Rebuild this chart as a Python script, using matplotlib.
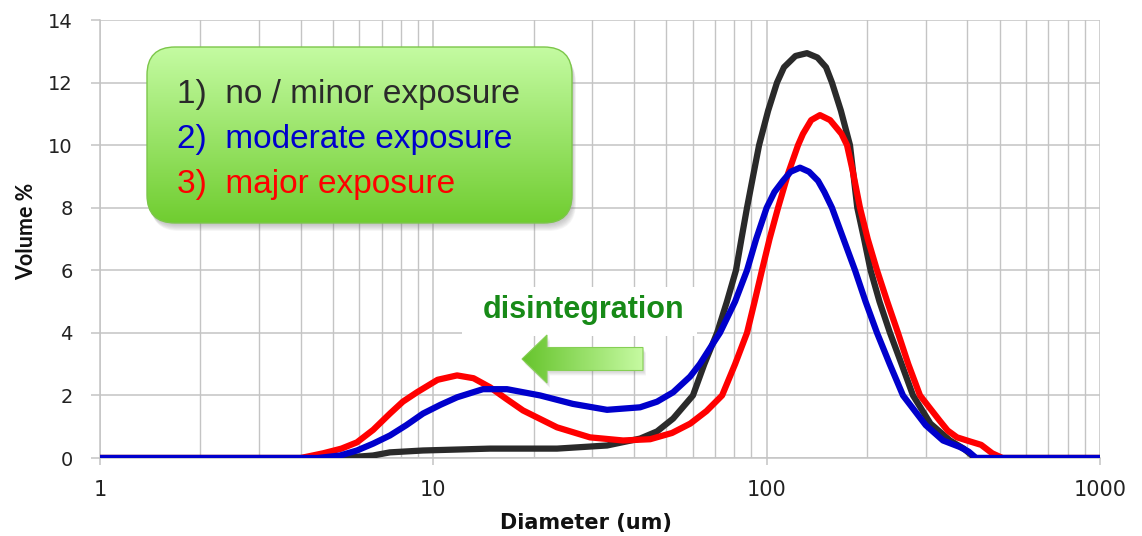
import numpy as np
import matplotlib
matplotlib.use("Agg")
import matplotlib.pyplot as plt
from matplotlib.patches import FancyBboxPatch, Polygon
from matplotlib.ticker import FixedLocator, NullFormatter

# ---------------- data ----------------
black_x = [1, 5.25, 6.59, 7.41, 9.31, 14.8, 23.5, 33.2, 41.7, 46.9, 52.4, 60.1, 65, 71, 76, 80.9, 84, 87.3, 91, 94.9,
           101, 107.4, 112.7, 122, 132.1, 142, 150.7, 157, 167, 177.8, 187, 196, 205, 218, 234.4, 254, 274.8, 310,
           354.8, 390, 421.7, 1000]
black_y = [0, 0, 0.08, 0.18, 0.24, 0.30, 0.30, 0.40, 0.62, 0.85, 1.26, 2.0, 3.0, 4.0, 5.0, 6.0, 7.0, 8.0, 9.0, 10.0,
           11.1, 12.0, 12.49, 12.85, 12.94, 12.8, 12.49, 12.0, 11.1, 10.0, 8.0, 7.0, 6.0, 5.0, 4.0, 3.0, 2.0, 1.1,
           0.56, 0.3, 0, 0]

red_x = [1, 4.0, 4.67, 5.3, 5.9, 6.6, 7.41, 8.1, 8.93, 10.3, 11.78, 13.2, 14.8, 16.5, 18.58, 23.5, 29.5, 37.1, 44.7,
         52, 59, 66, 73.5, 80.4, 87.3, 92, 96.8, 102, 108.2, 116, 124.2, 128.5, 136, 144.5, 155, 167.7, 174.2, 181,
         190.5, 201, 214.3, 230, 247.7, 266, 288.4, 330, 349, 372.4, 410, 440, 475, 510, 1000]
red_y = [0, 0, 0.15, 0.3, 0.5, 0.9, 1.42, 1.8, 2.1, 2.5, 2.64, 2.55, 2.26, 1.9, 1.52, 0.98, 0.66, 0.56, 0.6,
         0.8, 1.1, 1.5, 2.0, 3.0, 4.0, 5.0, 6.0, 7.0, 8.0, 9.1, 10.0, 10.36, 10.8, 10.96, 10.8, 10.36, 10.0, 9.2,
         8.0, 7.0, 6.0, 5.0, 4.0, 3.0, 2.0, 1.2, 0.88, 0.66, 0.52, 0.42, 0.15, 0, 0]

blue_x = [1, 4.5, 5.25, 5.9, 6.6, 7.41, 8.3, 9.31, 10.5, 11.78, 14.09, 16.63, 20.9, 26.2, 33.2, 41.7, 46.9, 52.4, 58.9,
          63, 67.5, 72.4, 80.4, 87.3, 93, 100, 105.5, 111.9, 118, 125.9, 134, 142.6, 149, 157, 170, 184.1, 198,
          214.3, 234, 256.4, 300, 338.1, 380.2, 404, 425, 1000]
blue_y = [0, 0, 0.08, 0.24, 0.46, 0.72, 1.05, 1.42, 1.7, 1.94, 2.2, 2.2, 2.0, 1.73, 1.54, 1.62, 1.8, 2.1, 2.6,
          3.0, 3.5, 4.0, 5.0, 6.0, 7.0, 8.0, 8.5, 8.86, 9.15, 9.28, 9.15, 8.86, 8.5, 8.0, 7.0, 6.0, 5.0,
          4.0, 3.0, 2.0, 1.05, 0.56, 0.35, 0.2, 0, 0]

y_ticks = [0, 2, 4, 6, 8, 10, 12, 14]
x_ticks = [1, 10, 100, 1000]
x_tick_labels = ["1", "10", "100", "1000"]

legend_labels = ["1)  no / minor exposure", "2)  moderate exposure", "3)  major exposure"]
legend_colors = ["#2a2a2a", "#0000cc", "#ff0000"]
annotation_text = "disintegration"

# ---------------- figure ----------------
W, H = 1142, 536
fig = plt.figure(figsize=(W / 100, H / 100), dpi=100)
fig.patch.set_facecolor("white")

L, R, T, B = 100, 1100, 20, 458
ax = fig.add_axes([L / W, 1 - B / H, (R - L) / W, (B - T) / H])
ax.set_xscale("log")
ax.set_xlim(1, 1000)
ax.set_ylim(0, 14)

lw = 4.5
ax.plot(black_x, black_y, color="#2a2a2a", lw=lw, solid_capstyle="round", solid_joinstyle="round", zorder=3)
ax.plot(red_x, red_y, color="#ff0000", lw=lw, solid_capstyle="round", solid_joinstyle="round", zorder=4)
ax.plot(blue_x, blue_y, color="#0000cc", lw=lw, solid_capstyle="round", solid_joinstyle="round", zorder=5)

ax.set_yticks(y_ticks)
ax.set_xticks(x_ticks)
ax.set_xticklabels(x_tick_labels)
minor = [m * 10 ** e for e in range(0, 3) for m in range(2, 10)]
ax.xaxis.set_minor_locator(FixedLocator(minor))
ax.xaxis.set_minor_formatter(NullFormatter())
grid_c = "#c4c4c4"
ax.grid(True, which="major", color=grid_c, lw=1.1)
ax.grid(True, which="minor", axis="x", color=grid_c, lw=1.0)
ax.set_axisbelow(True)
for s in ["top", "right"]:
    ax.spines[s].set_visible(False)
for s in ["left", "bottom"]:
    ax.spines[s].set_color(grid_c)
    ax.spines[s].set_linewidth(1.1)
ax.tick_params(axis="y", which="major", length=6.5, width=1.1, color=grid_c, labelsize=14, pad=13,
               labelcolor="#222222")
ax.tick_params(axis="x", which="major", length=5, width=1.1, color=grid_c, labelsize=15, pad=11,
               labelcolor="#222222")
ax.tick_params(axis="x", which="minor", length=0)
for lab in ax.get_xticklabels() + ax.get_yticklabels():
    lab.set_fontfamily("DejaVu Sans")

ax.set_ylabel("Volume %", fontsize=15.5, fontweight="bold", fontfamily="Lato", color="#111111")
ax.set_xlabel("Diameter (um)", fontsize=15, fontweight="bold", fontfamily="DejaVu Sans", color="#111111")
ax.yaxis.label.set_va("center")
ax.xaxis.label.set_va("center")
ax.yaxis.set_label_coords((27 - L) / (R - L), (B - 231) / (B - T))
ax.xaxis.set_label_coords((586 - L) / (R - L), (B - 523) / (B - T))

# ---------------- overlay in pixel coordinates ----------------
gax = fig.add_axes([0, 0, 1, 1], zorder=10)
gax.set_xlim(0, W)
gax.set_ylim(H, 0)
gax.axis("off")
gax.patch.set_alpha(0)

# legend box
bx0, by0, bx1, by1 = 147, 47, 572, 223
rad = 28
for k in range(7):
    off = 2 + k
    gax.add_patch(FancyBboxPatch((bx0 + off * 0.5, by0 + off), bx1 - bx0, by1 - by0,
                                 boxstyle=f"round,pad=0,rounding_size={rad}",
                                 facecolor="#808080", edgecolor="none", alpha=0.07, zorder=1))
grad = np.linspace(0, 1, 256).reshape(-1, 1)
top_c = np.array([0xc4, 0xfb, 0xa2]) / 255
bot_c = np.array([0x70, 0xcd, 0x30]) / 255
img = top_c[None, None, :] * (1 - grad[:, :, None]) + bot_c[None, None, :] * grad[:, :, None]
im = gax.imshow(img, extent=[bx0, bx1, by1, by0], aspect="auto", zorder=2, interpolation="bilinear")
clip = FancyBboxPatch((bx0, by0), bx1 - bx0, by1 - by0, boxstyle=f"round,pad=0,rounding_size={rad}",
                      facecolor="none", edgecolor="none", transform=gax.transData)
gax.add_patch(clip)
im.set_clip_path(clip)
gax.add_patch(FancyBboxPatch((bx0, by0), bx1 - bx0, by1 - by0, boxstyle=f"round,pad=0,rounding_size={rad}",
                             facecolor="none", edgecolor="#7cc64a", lw=1.0, zorder=3))
gax.set_xlim(0, W)
gax.set_ylim(H, 0)

for i, (t, c) in enumerate(zip(legend_labels, legend_colors)):
    gax.text(177, 103 + i * 45, t, color=c, fontsize=24, family=["Liberation Sans", "DejaVu Sans"],
             va="baseline", ha="left", zorder=4)

# annotation label with white background
gax.add_patch(plt.Rectangle((462, 287), 235, 49, facecolor="white", edgecolor="none", zorder=1))
gax.text(584, 318, annotation_text, color="#178a17", fontsize=22, family=["Liberation Sans", "DejaVu Sans"],
         fontweight="bold", va="baseline", ha="center", zorder=4)

# gradient arrow pointing left
tip, back, right, yc = 522, 547, 643, 359
head_half, body_half = 24, 11.5
pts = [(tip, yc), (back, yc - head_half), (back, yc - body_half), (right, yc - body_half),
       (right, yc + body_half), (back, yc + body_half), (back, yc + head_half)]
for k in range(4):
    off = 2 + k
    gax.add_patch(Polygon([(p[0] + off * 0.6, p[1] + off) for p in pts], closed=True,
                          facecolor="#808080", alpha=0.08, edgecolor="none", zorder=1))
hgrad = np.linspace(0, 1, 256).reshape(1, -1)
left_c = np.array([0x66, 0xc4, 0x2c]) / 255
right_c = np.array([0xc6, 0xfa, 0xa2]) / 255
aimg = left_c[None, None, :] * (1 - hgrad[:, :, None]) + right_c[None, None, :] * hgrad[:, :, None]
aim = gax.imshow(aimg, extent=[tip, right, yc + head_half, yc - head_half], aspect="auto", zorder=2,
                 interpolation="bilinear")
aclip = Polygon(pts, closed=True, transform=gax.transData, facecolor="none", edgecolor="none")
gax.add_patch(aclip)
aim.set_clip_path(aclip)
gax.add_patch(Polygon(pts, closed=True, facecolor="none", edgecolor="#86cf55", lw=0.8, zorder=3))
gax.set_xlim(0, W)
gax.set_ylim(H, 0)

fig.savefig("out.png", dpi=100)
